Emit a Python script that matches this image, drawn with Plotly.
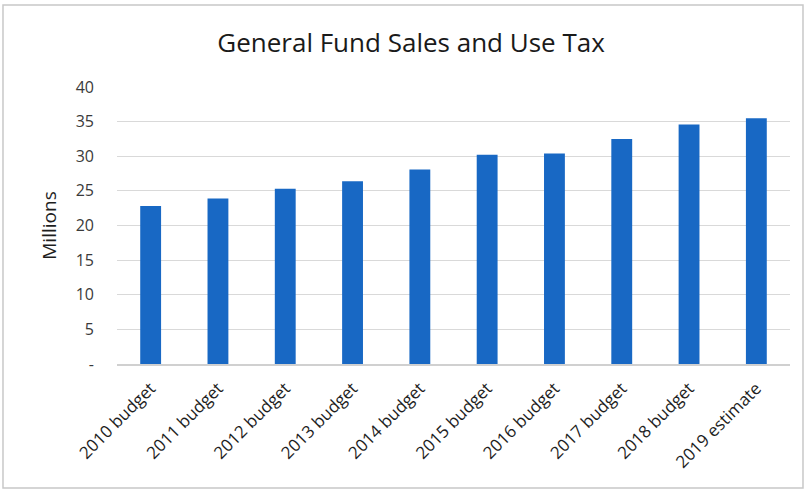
import plotly.graph_objects as go

# Sales and use tax revenue by fiscal year (millions of dollars)
categories = ["2010 budget", "2011 budget", "2012 budget", "2013 budget", "2014 budget",
              "2015 budget", "2016 budget", "2017 budget", "2018 budget", "2019 estimate"]
revenue = [22.8, 23.9, 25.3, 26.4, 28.1, 30.2, 30.4, 32.5, 34.6, 35.5]

tick_values = [0, 5, 10, 15, 20, 25, 30, 35, 40]
tick_labels = ["-", "5", "10", "15", "20", "25", "30", "35", "40"]

font_family = "Open Sans, Liberation Sans, sans-serif"

fig = go.Figure(
    go.Bar(
        x=categories,
        y=revenue,
        marker=dict(color="#1868C4", line=dict(width=0)),
        width=0.31,
    )
)

fig.update_layout(
    width=806,
    height=493,
    margin=dict(l=117, r=16, t=87, b=129),
    paper_bgcolor="white",
    plot_bgcolor="white",
    showlegend=False,
    title=dict(
        text="General Fund Sales and Use Tax",
        x=0.51,
        xanchor="center",
        y=0.912,
        yanchor="middle",
        font=dict(family=font_family, size=26, color="#1a1a1a"),
    ),
    shapes=[
        dict(
            type="rect", xref="paper", yref="paper",
            x0=-0.1694, x1=1.0193, y0=-0.4477, y1=1.296,
            line=dict(color="#c8c8c8", width=1.5), fillcolor="rgba(0,0,0,0)",
            layer="below",
        )
    ],
)

fig.update_xaxes(
    type="category",
    tickangle=-45,
    tickfont=dict(family=font_family, size=17, color="#1e1e1e"),
    ticklabelstandoff=6,
    showgrid=False,
    showline=True,
    linecolor="#d0d0d0",
    linewidth=1.5,
    ticks="",
)

fig.update_yaxes(
    range=[0, 40],
    tickvals=tick_values,
    ticktext=tick_labels,
    tickfont=dict(family=font_family, size=16, color="#3a3a3a"),
    ticklabelstandoff=22,
    showgrid=True,
    gridcolor="#d9d9d9",
    gridwidth=1,
    zeroline=False,
    showline=False,
    title=dict(
        text="Millions",
        font=dict(family=font_family, size=19, color="#1e1e1e"),
        standoff=14,
    ),
)

fig.write_html("out.html")
